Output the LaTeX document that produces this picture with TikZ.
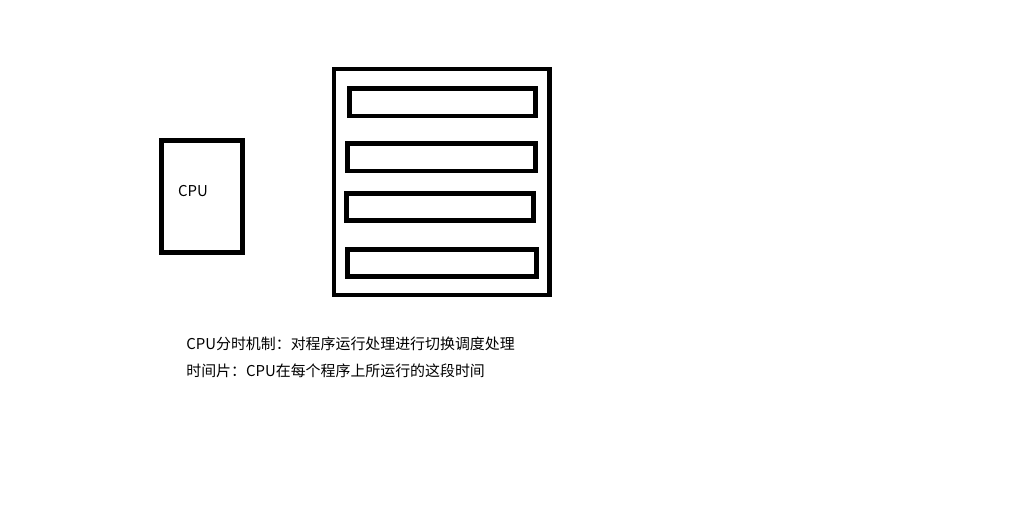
\documentclass[tikz,border=0pt]{standalone}
\usepackage{fontspec}
\setmainfont{Noto Sans CJK SC}
\begin{document}
\begin{tikzpicture}[x=0.02cm,y=-0.02cm, line join=miter]

% -----------------------------
% Parameters
% -----------------------------
\def\lw{2.83pt}      % frame thickness
\tikzset{
  frame/.style={draw=black, line width=\lw},
  note/.style={anchor=west, inner sep=0pt, font=\fontsize{8.5pt}{10pt}\selectfont},
}

% Room so the page keeps the reference size
\useasboundingbox (0,0) rectangle (1010,527);

% -----------------------------
% CPU box
% -----------------------------
\draw[frame] (161.5,140.5) rectangle (242.5,252.5);
\node[note, anchor=center] (cpu) at (193,191) {CPU};

% -----------------------------
% Memory with four programs
% -----------------------------
\draw[frame] (334,69) rectangle (549.5,295);

\draw[frame] (349.8,88.5)  rectangle (535.2,116);   % program 1
\draw[frame] (347.8,143.5) rectangle (535.2,171);   % program 2
\draw[frame] (346.5,193.8) rectangle (533.2,220.2); % program 3
\draw[frame] (347.8,249.8) rectangle (536.2,276.2); % program 4

% -----------------------------
% Definitions below
% -----------------------------
\node[note] (share) at (186,344) {CPU分时机制：对程序运行处理进行切换调度处理};
\node[note] (slice) at (186,371) {时间片：CPU在每个程序上所运行的这段时间};

\end{tikzpicture}
\end{document}
